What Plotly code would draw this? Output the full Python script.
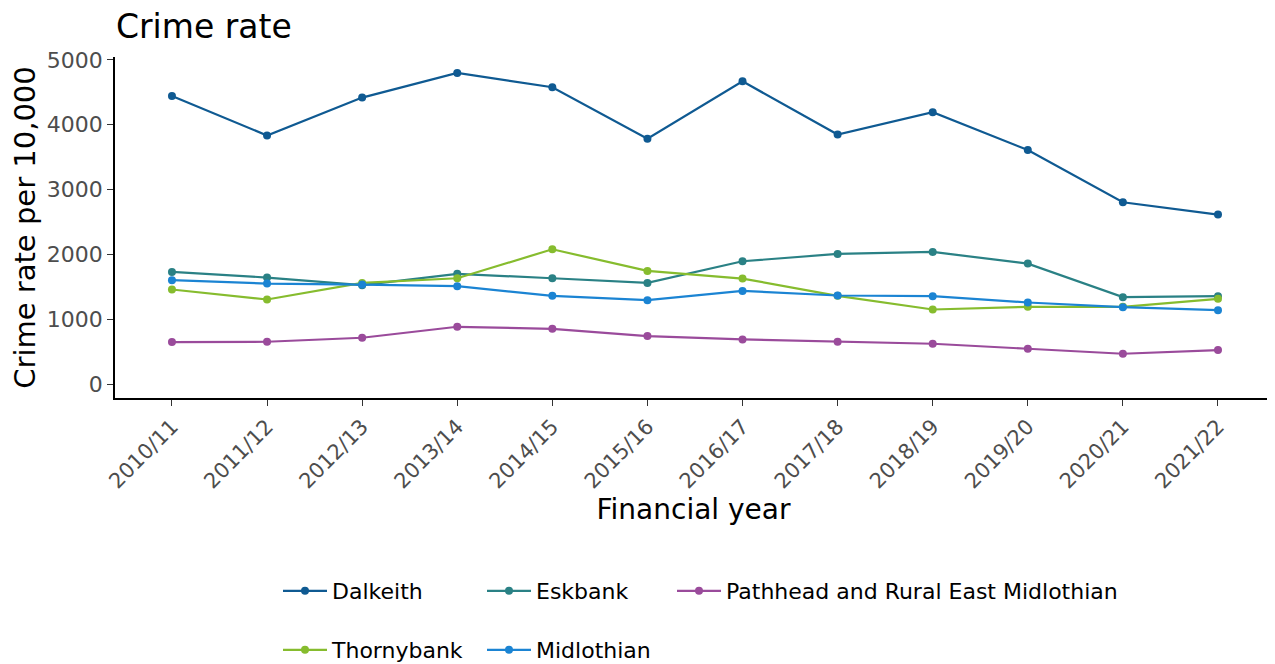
import plotly.graph_objects as go

years = ["2010/11", "2011/12", "2012/13", "2013/14", "2014/15", "2015/16",
         "2016/17", "2017/18", "2018/19", "2019/20", "2020/21", "2021/22"]

dalkeith = [4445, 3835, 4420, 4800, 4580, 3785, 4670, 3850, 4195, 3610, 2805, 2615]
eskbank = [1730, 1643, 1525, 1700, 1632, 1560, 1894, 2007, 2038, 1858, 1340, 1355]
pathhead = [647, 652, 714, 883, 852, 739, 688, 652, 621, 544, 467, 524]
thornybank = [1458, 1304, 1560, 1632, 2079, 1745, 1627, 1360, 1150, 1191, 1191, 1314]
midlothian = [1602, 1550, 1535, 1509, 1360, 1294, 1437, 1366, 1355, 1258, 1185, 1140]

names = ["Dalkeith", "Eskbank", "Pathhead and Rural East Midlothian", "Thornybank", "Midlothian"]
values = [dalkeith, eskbank, pathhead, thornybank, midlothian]
colors = ["#0F5A92", "#2A8185", "#9A4B9B", "#86BC2E", "#1B84D3"]

FONT = "DejaVu Sans"
# the page body adds an 8px margin, so the figure is offset by 8px in the window
W, H = 1267, 656
L, R, T, B = 107, 3, 49, 266
pw, ph = W - L - R, H - T - B

# legend item start / row centre, in figure pixels
leg_px = [(270, 583), (474, 583), (664, 583), (270, 642), (474, 642)]

fig = go.Figure()
layout_legends = {}
for i, (name, vals, col) in enumerate(zip(names, values, colors)):
    key = "legend" if i == 0 else f"legend{i + 1}"
    fig.add_trace(go.Scatter(
        x=years, y=vals, name=name, mode="lines+markers",
        line=dict(color=col, width=2.2), marker=dict(color=col, size=8),
        legend=key, showlegend=True,
    ))
    px_, py_ = leg_px[i]
    layout_legends[key] = dict(
        orientation="h", x=(px_ - L) / pw, xanchor="left",
        y=(T + ph - py_) / ph, yanchor="middle",
        font=dict(size=22, family=FONT, color="black"),
        itemwidth=44, bgcolor="rgba(0,0,0,0)", visible=True,
    )

fig.update_layout(
    width=W, height=H, showlegend=True,
    margin=dict(l=L, r=R, t=T, b=B, autoexpand=False),
    plot_bgcolor="white", paper_bgcolor="white",
    font=dict(family=FONT, color="black"),
    title=dict(text="Crime rate", x=108 / W, xanchor="left", y=1 - 18 / H, yanchor="middle",
               font=dict(size=33, family=FONT, color="black")),
    **layout_legends,
)

fig.update_xaxes(
    type="category", categoryorder="array", categoryarray=years,
    range=[-0.599, 11.568], showgrid=False, zeroline=False, automargin=False,
    showline=True, linecolor="black", linewidth=1.8,
    ticks="outside", ticklen=6, tickcolor="#333333", tickwidth=1.4,
    tickangle=-45, tickfont=dict(size=21, color="#4d4d4d", family=FONT),
    title=dict(text="Financial year", font=dict(size=28, family=FONT, color="black"), standoff=1),
)
fig.update_yaxes(
    range=[-216, 5046], tickvals=[0, 1000, 2000, 3000, 4000, 5000],
    showgrid=False, zeroline=False, automargin=False,
    showline=True, linecolor="black", linewidth=1.8,
    ticks="outside", ticklen=6, tickcolor="#333333", tickwidth=1.4,
    tickfont=dict(size=22, color="#4d4d4d", family=FONT),
    title=dict(text="Crime rate per 10,000", font=dict(size=29, family=FONT, color="black"), standoff=8),
)

fig.write_html("out.html")
